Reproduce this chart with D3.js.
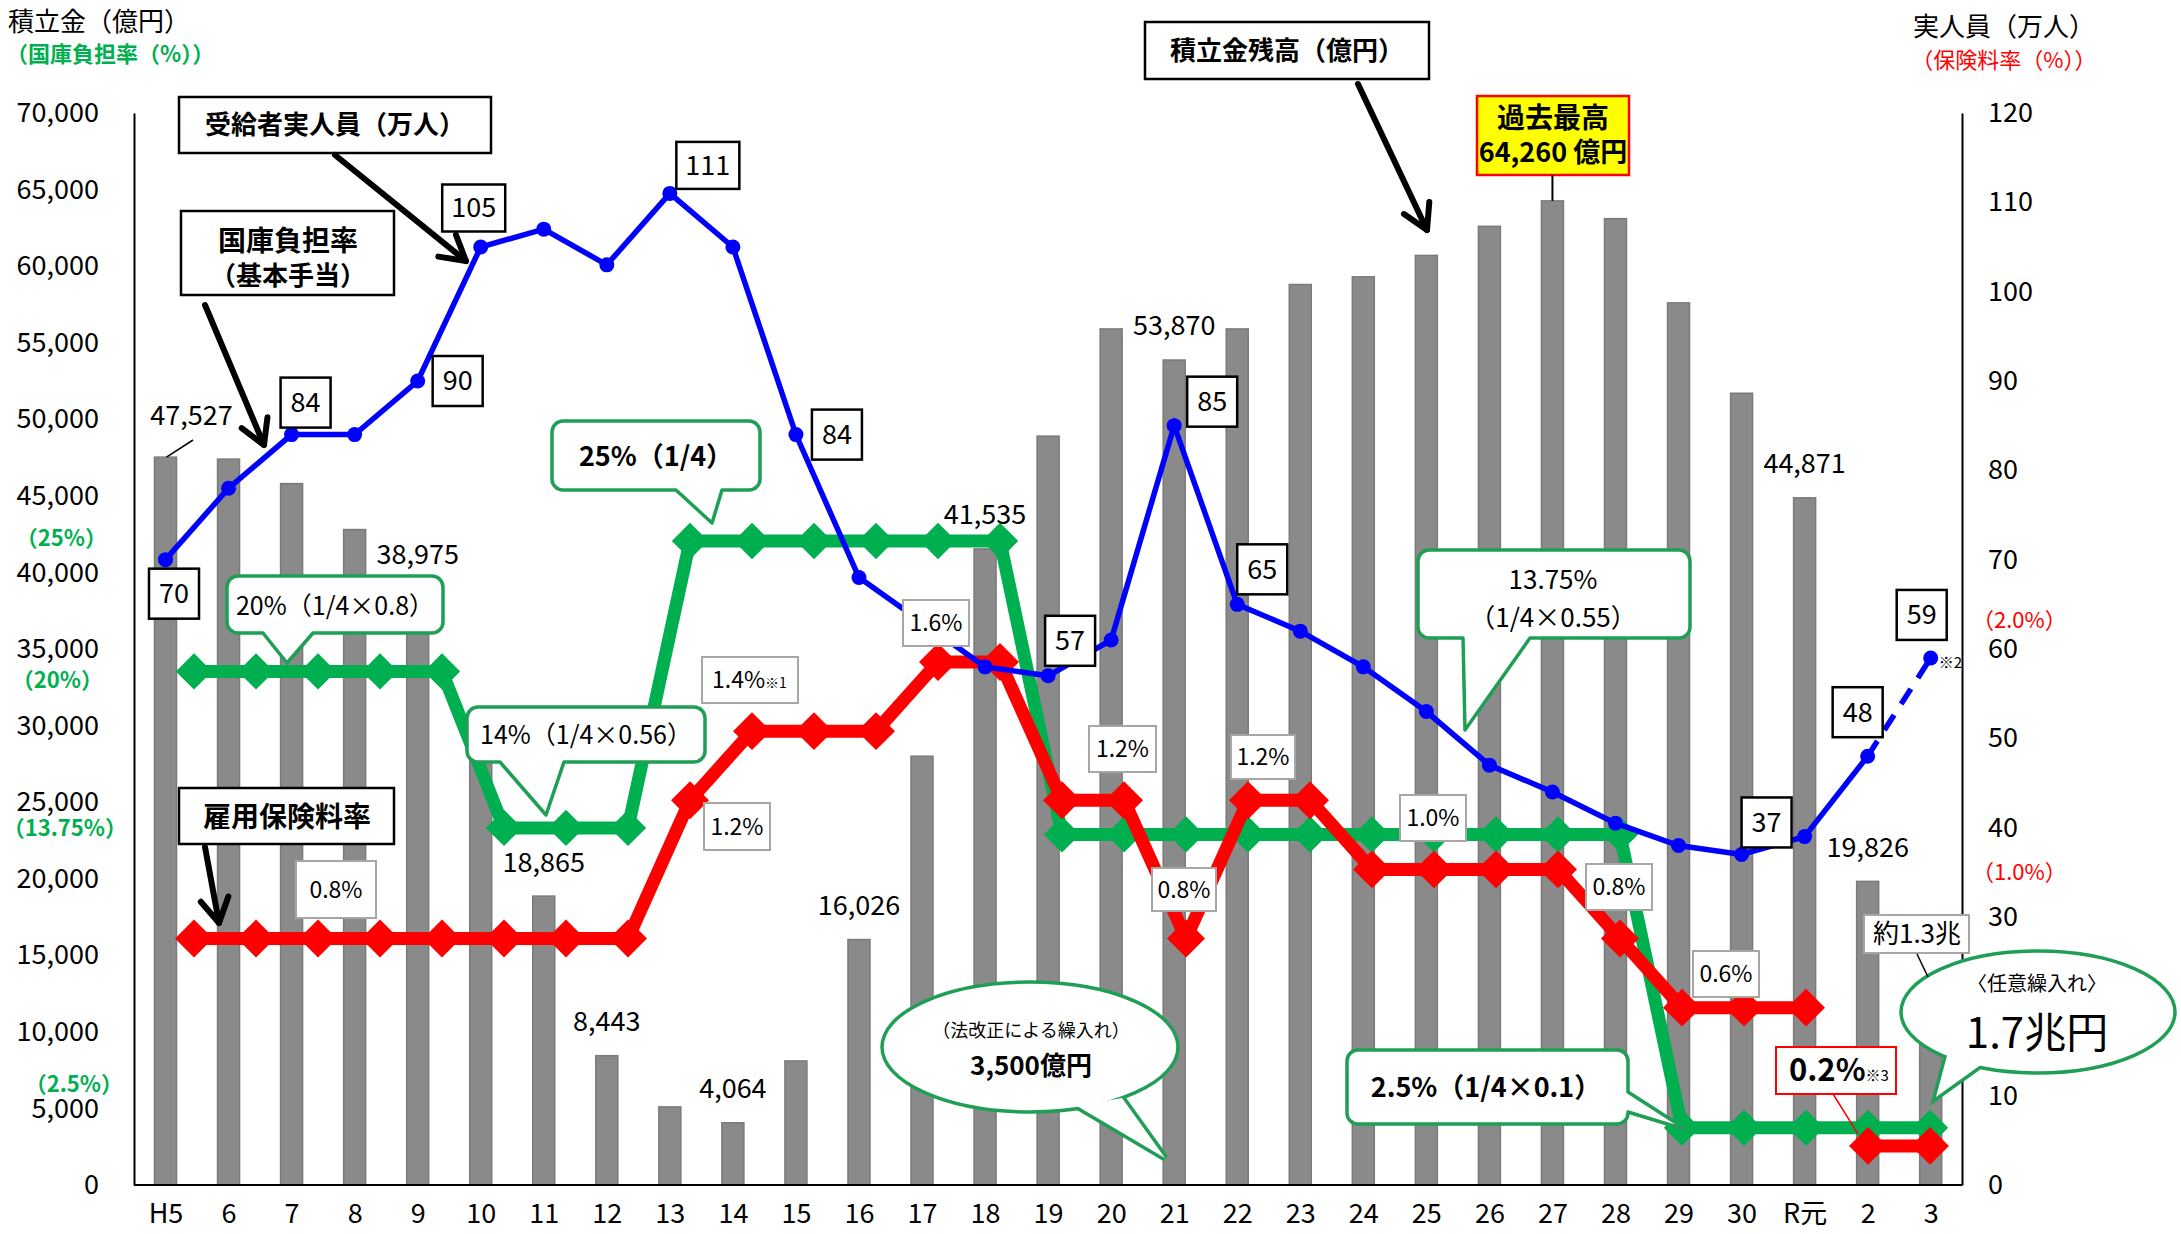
<!DOCTYPE html>
<html>
<head>
<meta charset="utf-8">
<title>雇用保険 積立金残高等の推移</title>
<script src="https://d3js.org/d3.v7.min.js"></script>
<style>
  body { margin: 0; background: #fff; }
  #holder svg { display: block; }
  text { font-family: "Noto Sans CJK JP", "Noto Sans", sans-serif; }
</style>
</head>
<body>
<div id="holder"></div>
<script>
// 年度
const years = ["H5","6","7","8","9","10","11","12","13","14","15","16","17","18","19","20","21","22","23","24","25","26","27","28","29","30","R元","2","3"];
// 積立金残高（億円）
const reserve = [47527, 47400, 45800, 42800, 38975, 29600, 18865, 8443, 5100, 4064, 8100, 16026, 28000, 41535, 48900, 55900, 53870, 55900, 58800, 59300, 60700, 62600, 64260, 63100, 57600, 51700, 44871, 19826, 13000];
// 受給者実人員（万人）
const recipients = [70, 78, 84, 84, 90, 105, 107, 103, 111, 105, 84, 68, 63, 58, 57, 61, 85, 65, 62, 58, 53, 47, 44, 40.5, 38, 37, 39, 48, 59];
// 国庫負担率（%）
const govShare = [20, 20, 20, 20, 20, 14, 14, 14, 25, 25, 25, 25, 25, 25, 13.75, 13.75, 13.75, 13.75, 13.75, 13.75, 13.75, 13.75, 13.75, 13.75, 2.5, 2.5, 2.5, 2.5, 2.5];
// 雇用保険料率（%）
const premium = [0.8, 0.8, 0.8, 0.8, 0.8, 0.8, 0.8, 0.8, 1.2, 1.4, 1.4, 1.4, 1.6, 1.6, 1.2, 1.2, 0.8, 1.2, 1.2, 1.0, 1.0, 1.0, 1.0, 0.8, 0.6, 0.6, 0.6, 0.2, 0.2];

// ticks
const leftTicks = d3.range(0, 70001, 5000);
const rightTicks = d3.range(0, 121, 10);

// which values get a printed label
const reserveLabelYears = ["H5", "9", "11", "12", "14", "16", "18", "21", "R元", "2"];
const recipientLabelYears = ["H5", "7", "9", "10", "13", "15", "19", "21", "22", "30", "2", "3"];
const dashFrom = "2";      // 受給者実人員: R2 -> R3 is dashed
const premiumBreak = "2";  // 保険料率: line not joined R元 -> R2

const w = 2181, h = 1234;
const GREEN = "#00b050", RED = "#ff0000", BLUE = "#0000ff";

const svg = d3.select("#holder").append("svg")
  .attr("width", w).attr("height", h)
  .style("background", "#fff");

const xBar = d3.scalePoint().domain(years).range([165.5, 1930.7]);
const xLine = d3.scalePoint().domain(years).range([194, 1930]);
const yLeft = d3.scaleLinear().domain([0, 70000]).range([1185, 113]);
const yRight = d3.scaleLinear().domain([0, 120]).range([1185, 113]);
const yGov = d3.scaleLinear().domain([0, 25]).range([1193, 541]);
const yPrem = d3.scaleLinear().domain([0, 1.6]).range([1215, 662]);

const idx = (y) => years.indexOf(y);

//Axes
const leftAxis = d3.axisLeft(yLeft).tickValues(leftTicks).tickFormat(d3.format(","))
  .tickSize(0).tickPadding(35);
svg.append("g").attr("transform", "translate(134,0)").call(leftAxis)
  .call(g => g.selectAll("text").attr("font-size", 27).attr("fill", "#000"))
  .call(g => g.select(".domain").attr("stroke", "#000").attr("stroke-width", 2));

const rightAxis = d3.axisRight(yRight).tickValues(rightTicks).tickSize(0).tickPadding(26);
svg.append("g").attr("transform", "translate(1962,0)").call(rightAxis)
  .call(g => g.selectAll("text").attr("font-size", 27).attr("fill", "#000"))
  .call(g => g.select(".domain").attr("stroke", "#000").attr("stroke-width", 2));

const xAxis = d3.axisBottom(xBar).tickSize(0).tickPadding(19);
svg.append("g").attr("transform", "translate(0," + yLeft(0) + ")").call(xAxis)
  .call(g => g.select(".domain").remove())
  .call(g => g.selectAll("text").attr("font-size", 27).attr("fill", "#000"));

//Bars
svg.append("g").selectAll("rect")
  .data(years)
  .join("rect")
  .attr("x", d => xBar(d) - 11)
  .attr("y", (d, i) => yLeft(reserve[i]))
  .attr("width", 22)
  .attr("height", (d, i) => yLeft(0) - yLeft(reserve[i]))
  .attr("fill", "#8a8a8a")
  .attr("stroke", "#7a7a7a")
  .attr("stroke-width", 1.5);

svg.append("line")
  .attr("x1", 134).attr("x2", 1962)
  .attr("y1", yLeft(0)).attr("y2", yLeft(0))
  .attr("stroke", "#000").attr("stroke-width", 2);

//Lines
const diamond = d3.symbol().type(d3.symbolSquare);

function rateLine(vals, yScale, color, size, breakAt) {
  const g = svg.append("g");
  const pts = years.map((y, i) => ({ y: y, v: vals[i] }));
  const parts = breakAt ? [pts.slice(0, idx(breakAt)), pts.slice(idx(breakAt))] : [pts];
  const line = d3.line().x(d => xLine(d.y)).y(d => yScale(d.v));
  parts.forEach(p => {
    g.append("path").attr("d", line(p))
      .attr("fill", "none").attr("stroke", color).attr("stroke-width", 13)
      .attr("stroke-linejoin", "miter").attr("stroke-miterlimit", 2);
  });
  g.selectAll(".pt").data(pts).join("path")
    .attr("class", "pt")
    .attr("d", diamond.size(size))
    .attr("transform", d => "translate(" + xLine(d.y) + "," + yScale(d.v) + ") rotate(45)")
    .attr("fill", color);
}
rateLine(govShare, yGov, GREEN, 660);
rateLine(premium, yPrem, RED, 720, premiumBreak);

// 受給者実人員
const bpts = years.map((y, i) => ({ y: y, v: recipients[i] }));
const bline = d3.line().x(d => xBar(d.y)).y(d => yRight(d.v));
svg.append("path").attr("d", bline(bpts.slice(0, idx(dashFrom) + 1)))
  .attr("fill", "none").attr("stroke", BLUE).attr("stroke-width", 5.5);
svg.append("path").attr("d", bline(bpts.slice(idx(dashFrom))))
  .attr("fill", "none").attr("stroke", BLUE).attr("stroke-width", 5.5)
  .attr("stroke-dasharray", "18 13");
svg.append("g").selectAll("circle").data(bpts).join("circle")
  .attr("cx", d => xBar(d.y)).attr("cy", d => yRight(d.v)).attr("r", 7.5)
  .attr("fill", BLUE);

//helpers
function txt(x, y, s, size, opt) {
  opt = opt || {};
  return svg.append("text")
    .attr("x", x).attr("y", y).attr("dy", "0.35em")
    .attr("text-anchor", opt.anchor || "middle")
    .attr("font-size", size)
    .attr("font-weight", opt.bold ? 700 : 400)
    .attr("fill", opt.color || "#000")
    .text(s);
}
function rectBox(x, y, bw, bh, stroke, sw, fill) {
  return svg.append("rect").attr("x", x).attr("y", y).attr("width", bw).attr("height", bh)
    .attr("fill", fill || "#fff").attr("stroke", stroke).attr("stroke-width", sw);
}
function arrow(x1, y1, x2, y2) {
  const g = svg.append("g").attr("stroke", "#000").attr("stroke-width", 6)
    .attr("fill", "none").attr("stroke-linecap", "round").attr("stroke-linejoin", "round");
  g.append("line").attr("x1", x1).attr("y1", y1).attr("x2", x2).attr("y2", y2);
  const a = Math.atan2(y2 - y1, x2 - x1), L = 28, s = Math.PI / 6;
  g.append("polyline").attr("points", [
    [x2 - L * Math.cos(a - s), y2 - L * Math.sin(a - s)], [x2, y2],
    [x2 - L * Math.cos(a + s), y2 - L * Math.sin(a + s)]].join(" "));
}
function roundCallout(x, y, bw, bh, tail) {
  const r = 11, p = d3.path();
  p.moveTo(x + r, y);
  p.lineTo(x + bw - r, y);
  p.arcTo(x + bw, y, x + bw, y + r, r);
  if (tail.side === "right") {
    p.lineTo(x + bw, tail.a);
    p.lineTo(tail.tx, tail.ty);
    p.lineTo(x + bw, tail.b);
  }
  p.lineTo(x + bw, y + bh - r);
  p.arcTo(x + bw, y + bh, x + bw - r, y + bh, r);
  if (tail.side === "bottom") {
    p.lineTo(tail.b, y + bh);
    p.lineTo(tail.tx, tail.ty);
    p.lineTo(tail.a, y + bh);
  }
  p.lineTo(x + r, y + bh);
  p.arcTo(x, y + bh, x, y + bh - r, r);
  p.lineTo(x, y + r);
  p.arcTo(x, y, x + r, y, r);
  p.closePath();
  svg.append("path").attr("d", p.toString())
    .attr("fill", "#fff").attr("stroke", "#1f9f55").attr("stroke-width", 3.5)
    .attr("stroke-linejoin", "round");
}
function ovalCallout(cx, cy, rx, ry, tail) {
  const pts = tail.join(" ");
  svg.append("polygon").attr("points", pts)
    .attr("fill", "#fff").attr("stroke", "#1f9f55").attr("stroke-width", 7);
  svg.append("ellipse").attr("cx", cx).attr("cy", cy).attr("rx", rx).attr("ry", ry)
    .attr("fill", "#fff").attr("stroke", "#1f9f55").attr("stroke-width", 3.5);
  svg.append("polygon").attr("points", pts).attr("fill", "#fff");
}

//Bar value labels
reserveLabelYears.forEach(y => {
  const v = reserve[idx(y)];
  const lift = y === "H5" ? 42 : 34;
  txt(xBar(y) + (y === "H5" ? 26 : 0), yLeft(v) - lift, d3.format(",")(v), 27);
});
svg.append("line").attr("x1", 193).attr("y1", 440).attr("x2", xBar("H5") + 1).attr("y2", yLeft(reserve[0]))
  .attr("stroke", "#000").attr("stroke-width", 1.5);

//Recipient value boxes
const boxOffset = {
  "H5": [8.5, 34], "7": [14, -32], "9": [40, 0], "10": [-7, -39], "13": [38, -28], "15": [41, 0],
  "19": [22, -35], "21": [38, -24], "22": [25, -35], "30": [25, -32], "2": [-10, -44], "3": [-9, -43]
};
recipientLabelYears.forEach(y => {
  const v = recipients[idx(y)];
  const s = String(v);
  const bw = s.length > 2 ? 63 : 50, bh = s.length > 2 ? 47 : 50;
  const cx = xBar(y) + boxOffset[y][0], cy = yRight(v) + boxOffset[y][1];
  rectBox(cx - bw / 2, cy - bh / 2, bw, bh, "#000", 2.5);
  txt(cx, cy, s, 27);
});
svg.append("text").attr("x", xBar("3") + 8).attr("y", yRight(recipients[idx("3")]) + 10)
  .attr("font-size", 15).text("※2");

//Rate label boxes (保険料率)
const rateBoxes = [
  [296, 861, 80, 57, "0.8%"], [704, 803, 66, 47, "1.2%"], [702, 657, 96, 46, "1.4%", "※1"],
  [903, 600, 66, 46, "1.6%"], [1089, 726, 67, 46, "1.2%"], [1152, 868, 64, 43, "0.8%"],
  [1231, 735, 64, 44, "1.2%"], [1400, 795, 66, 46, "1.0%"], [1586, 864, 66, 46, "0.8%"],
  [1693, 951, 66, 46, "0.6%"]
];
rateBoxes.forEach(b => {
  rectBox(b[0], b[1], b[2], b[3], "#a6a6a6", 2);
  const t = txt(b[0] + b[2] / 2, b[1] + b[3] / 2, b[4], 23);
  if (b[5]) {
    t.attr("x", b[0] + 10).attr("text-anchor", "start");
    t.append("tspan").attr("font-size", 14).text(b[5]);
  }
});

//Black-framed captions with arrows
rectBox(179, 97, 312, 56, "#000", 2.5);
txt(335, 125, "受給者実人員（万人）", 26, { bold: true });
arrow(335, 155, 466, 261);

rectBox(181, 211, 213, 84, "#000", 2.5);
txt(288, 241, "国庫負担率", 28, { bold: true });
txt(288, 276, "（基本手当）", 26, { bold: true });
arrow(205, 305, 264, 445);

rectBox(179, 788, 215, 56, "#000", 2.5);
txt(287, 817, "雇用保険料率", 28, { bold: true });
arrow(205, 847, 219, 923);

rectBox(1145, 22, 284, 57, "#000", 2.5);
txt(1287, 51, "積立金残高（億円）", 26, { bold: true });
arrow(1358, 84, 1427, 230);

const peak = idx("27");
rectBox(1477, 96, 152, 79, RED, 2.5, "#ffff00");
txt(1553, 118, "過去最高", 28, { bold: true });
txt(1553, 153, d3.format(",")(reserve[peak]) + " 億円", 27, { bold: true });
svg.append("line").attr("x1", xBar("27")).attr("x2", xBar("27"))
  .attr("y1", 175).attr("y2", yLeft(reserve[peak]))
  .attr("stroke", "#000").attr("stroke-width", 2);

//Green callouts (国庫負担率)
roundCallout(552, 421, 208, 69, { side: "bottom", a: 676, b: 722, tx: 712, ty: 523 });
txt(656, 457, "25%（1/4）", 27, { bold: true });

roundCallout(227, 576, 216, 57, { side: "bottom", a: 263, b: 313, tx: 287, ty: 663 });
txt(335, 606, "20%（1/4×0.8）", 25);

roundCallout(467, 707, 238, 55, { side: "bottom", a: 500, b: 564, tx: 546, ty: 815 });
txt(586, 735, "14%（1/4×0.56）", 25);

roundCallout(1418, 550, 272, 88, { side: "bottom", a: 1463, b: 1530, tx: 1465, ty: 730 });
txt(1553, 580, "13.75%", 26);
txt(1553, 618, "（1/4×0.55）", 26);

roundCallout(1347, 1050, 281, 74, { side: "right", a: 1092, b: 1112, tx: 1687, ty: 1130 });
txt(1486, 1088, "2.5%（1/4×0.1）", 27, { bold: true });

//Oval callouts
ovalCallout(1030, 1047, 148, 65, [[1077, 1106], [1122, 1098], [1165, 1158]]);
txt(1031, 1031, "（法改正による繰入れ）", 18);
txt(1031, 1066, "3,500億円", 26, { bold: true });

ovalCallout(2038, 1012, 137, 61, [[1948, 1052], [1982, 1064], [1936, 1097]]);
txt(2037, 984, "〈任意繰入れ〉", 20);
txt(2037, 1033, "1.7兆円", 42);

rectBox(1864, 915, 105, 38, "#a6a6a6", 2);
txt(1917, 934, "約1.3兆", 26);
svg.append("line").attr("x1", 1917).attr("y1", 954).attr("x2", 1928).attr("y2", 977)
  .attr("stroke", "#000").attr("stroke-width", 1.5);

svg.append("line").attr("x1", 1833).attr("y1", 1094).attr("x2", xLine("2") - 10).attr("y2", yPrem(0.2) - 12)
  .attr("stroke", RED).attr("stroke-width", 1.5);
rectBox(1776, 1047, 120, 47, RED, 2);
const t02 = txt(1789, 1070, "0.2%", 31, { bold: true, anchor: "start" });
t02.append("tspan").attr("font-size", 15).attr("font-weight", 400).text("※3");

//Axis titles
txt(8, 22, "積立金（億円）", 26, { anchor: "start" });
txt(6, 54, "（国庫負担率（%））", 22, { anchor: "start", bold: true, color: GREEN });
txt(2004, 27, "実人員（万人）", 26);
txt(2004, 60, "（保険料率（%））", 22, { color: RED });

// side markers of the rate scales
txt(107, 538, "（25%）", 22, { anchor: "end", bold: true, color: GREEN });
txt(103, 680, "（20%）", 22, { anchor: "end", bold: true, color: GREEN });
txt(127, 828, "（13.75%）", 22, { anchor: "end", bold: true, color: GREEN });
txt(123, 1084, "（2.5%）", 22, { anchor: "end", bold: true, color: GREEN });
txt(1972, 620, "（2.0%）", 22, { anchor: "start", color: RED });
txt(1972, 872, "（1.0%）", 22, { anchor: "start", color: RED });
</script>
</body>
</html>
